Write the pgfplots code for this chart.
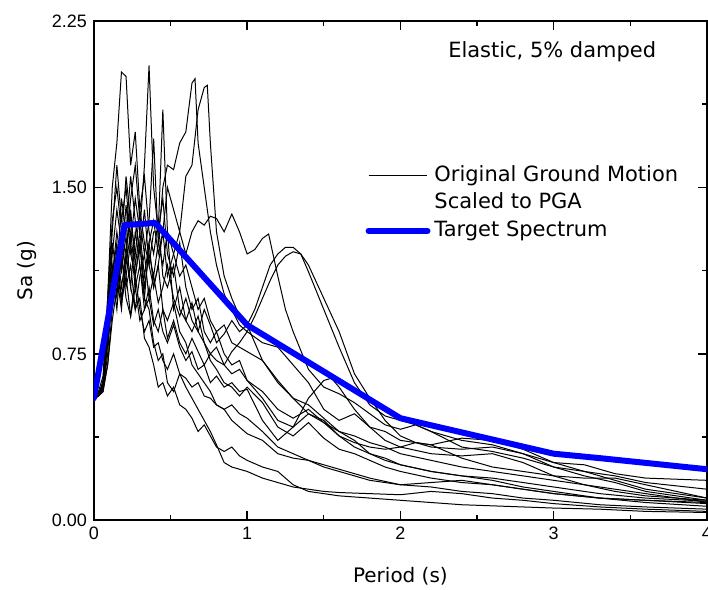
\documentclass[border=0pt]{standalone}
\usepackage{pgfplots}
\pgfplotsset{compat=1.18}
\usepackage{fontspec}
\setmainfont{DejaVu Sans}
\newfontfamily\ticksfont{Liberation Sans}
\definecolor{tblue}{RGB}{0,0,255}
\pgfplotsset{gm/.style={black, line width=0.5pt, mark=none, solid}}
\begin{document}
\begin{tikzpicture}
\begin{axis}[
  scale only axis, width=307pt, height=250pt,
  xmin=0, xmax=4, ymin=0, ymax=2.25,
  xtick={0,1,2,3,4}, ytick={0,0.75,1.5,2.25},
  minor x tick num=1, minor y tick num=1,
  tick align=inside,
  major tick length=4.5pt, minor tick length=2.5pt,
  axis line style={line width=0.8pt},
  every tick/.style={line width=0.7pt, black},
  /pgf/number format/assume math mode=true,
  ticklabel style={font=\ticksfont\fontsize{9}{10}\selectfont},
  yticklabel style={/pgf/number format/.cd, fixed, fixed zerofill, precision=2},
  xticklabel style={/pgf/number format/.cd, fixed, precision=0},
  xlabel={Period (s)}, ylabel={Sa (g)},
  label style={font=\fontsize{10.5}{12}\selectfont},
  every axis x label/.style={at={(axis description cs:0.5,-0.112)}, anchor=center},
  every axis y label/.style={at={(axis description cs:-0.109,0.5)}, anchor=center, rotate=90},
  legend style={at={(axis cs:1.770,1.607)}, anchor=north west, draw=none, fill=none,
    font=\fontsize{10.5}{12}\selectfont, row sep=3pt, inner sep=0pt,
    nodes={inner xsep=2pt, inner ysep=0pt, text height=8.5pt, text depth=2.5pt}},
  legend cell align=left,
  legend image code/.code={\draw[#1] (-2.5pt,0pt) -- (27pt,0pt);},
]
% C1
\addplot[gm] coordinates {(0,0.55) (0.03,0.56) (0.06,0.58) (0.09,0.75) (0.12,1.05) (0.15,1.22) (0.18,1.12) (0.21,1.28) (0.24,1.05) (0.27,0.95) (0.30,1.0) (0.33,0.82) (0.36,0.78) (0.39,0.7) (0.42,0.6) (0.45,0.62) (0.48,0.56) (0.52,0.6) (0.56,0.52) (0.60,0.5) (0.64,0.46) (0.68,0.40) (0.72,0.43) (0.76,0.38) (0.80,0.33) (0.85,0.31) (0.90,0.33) (0.95,0.29) (1.0,0.27) (1.1,0.24) (1.2,0.22) (1.3,0.16) (1.4,0.13) (1.5,0.12) (1.6,0.11) (1.8,0.10) (2.0,0.09) (2.2,0.08) (2.4,0.07) (2.6,0.065) (2.8,0.06) (3.0,0.055) (3.3,0.05) (3.6,0.04) (4.0,0.035)};
\addlegendentry{Original Ground Motion}
\addlegendimage{empty legend}
\addlegendentry{Scaled to PGA}
% C2
\addplot[gm, forget plot] coordinates {(0,0.55) (0.03,0.57) (0.06,0.6) (0.09,0.85) (0.12,1.1) (0.15,1.3) (0.18,1.15) (0.21,1.42) (0.24,1.2) (0.27,1.1) (0.30,1.25) (0.33,1.0) (0.36,0.95) (0.39,0.8) (0.42,0.72) (0.45,0.75) (0.48,0.62) (0.52,0.58) (0.56,0.66) (0.60,0.6) (0.64,0.55) (0.68,0.5) (0.72,0.45) (0.76,0.4) (0.80,0.34) (0.85,0.26) (0.90,0.24) (0.95,0.23) (1.0,0.22) (1.1,0.19) (1.2,0.17) (1.3,0.15) (1.4,0.14) (1.5,0.13) (1.6,0.125) (1.8,0.12) (2.0,0.115) (2.2,0.13) (2.4,0.12) (2.6,0.1) (2.8,0.09) (3.0,0.075) (3.3,0.06) (3.6,0.05) (4.0,0.04)};
% C3
\addplot[gm, forget plot] coordinates {(0,0.55) (0.03,0.57) (0.06,0.62) (0.09,0.9) (0.12,1.25) (0.15,1.1) (0.18,1.45) (0.21,1.3) (0.24,1.55) (0.27,1.35) (0.30,1.2) (0.33,1.4) (0.36,1.15) (0.39,1.05) (0.42,1.15) (0.45,0.95) (0.48,0.9) (0.52,0.98) (0.56,0.85) (0.60,0.8) (0.64,0.7) (0.68,0.66) (0.72,0.62) (0.76,0.58) (0.80,0.52) (0.85,0.5) (0.90,0.45) (0.95,0.42) (1.0,0.39) (1.1,0.36) (1.2,0.3) (1.3,0.28) (1.4,0.27) (1.5,0.24) (1.6,0.22) (1.7,0.2) (1.8,0.18) (2.0,0.16) (2.2,0.17) (2.4,0.18) (2.6,0.16) (2.8,0.14) (3.0,0.12) (3.3,0.1) (3.6,0.09) (4.0,0.08)};
% C4
\addplot[gm, forget plot] coordinates {(0,0.56) (0.03,0.57) (0.06,0.6) (0.09,0.95) (0.12,1.3) (0.15,1.6) (0.18,1.35) (0.21,1.5) (0.24,1.25) (0.27,1.45) (0.30,1.3) (0.33,1.6) (0.36,2.05) (0.39,1.5) (0.42,1.3) (0.45,1.45) (0.48,1.2) (0.52,1.1) (0.56,1.25) (0.60,1.05) (0.64,0.95) (0.68,1.0) (0.72,0.85) (0.76,0.8) (0.80,0.85) (0.85,0.75) (0.90,0.7) (0.95,0.72) (1.0,0.63) (1.1,0.58) (1.2,0.5) (1.3,0.46) (1.4,0.5) (1.5,0.44) (1.6,0.38) (1.7,0.33) (1.8,0.3) (1.9,0.28) (2.0,0.25) (2.2,0.22) (2.4,0.2) (2.6,0.19) (2.8,0.17) (3.0,0.15) (3.3,0.12) (3.6,0.1) (4.0,0.086)};
% C5
\addplot[gm, forget plot] coordinates {(0,0.55) (0.03,0.56) (0.06,0.63) (0.09,1.0) (0.12,1.5) (0.15,1.7) (0.18,2.02) (0.21,2.0) (0.24,1.6) (0.27,1.75) (0.30,1.4) (0.33,1.55) (0.36,1.3) (0.39,1.2) (0.42,1.35) (0.45,1.1) (0.48,1.05) (0.52,1.15) (0.56,0.95) (0.60,0.9) (0.64,0.98) (0.68,0.85) (0.72,0.8) (0.76,0.72) (0.80,0.68) (0.85,0.62) (0.90,0.6) (0.95,0.56) (1.0,0.6) (1.1,0.53) (1.2,0.42) (1.3,0.38) (1.4,0.44) (1.5,0.37) (1.6,0.32) (1.7,0.3) (1.8,0.27) (1.9,0.24) (2.0,0.22) (2.2,0.19) (2.4,0.17) (2.6,0.16) (2.8,0.14) (3.0,0.12) (3.3,0.1) (3.6,0.08) (4.0,0.063)};
% C6
\addplot[gm, forget plot] coordinates {(0,0.55) (0.03,0.57) (0.06,0.6) (0.09,0.8) (0.12,1.0) (0.15,1.2) (0.18,1.0) (0.21,1.15) (0.24,1.3) (0.27,1.1) (0.30,1.25) (0.33,1.05) (0.36,1.2) (0.39,1.1) (0.42,1.25) (0.45,1.5) (0.48,1.6) (0.52,1.58) (0.56,1.7) (0.60,1.75) (0.64,1.97) (0.66,1.99) (0.68,1.7) (0.72,1.5) (0.76,1.3) (0.80,1.15) (0.85,1.02) (0.90,0.95) (0.95,0.88) (1.0,0.85) (1.1,0.8) (1.2,0.78) (1.3,0.7) (1.4,0.62) (1.5,0.5) (1.6,0.45) (1.7,0.48) (1.8,0.42) (1.9,0.4) (2.0,0.36) (2.2,0.34) (2.4,0.37) (2.6,0.36) (2.8,0.32) (3.0,0.26) (3.2,0.25) (3.4,0.21) (3.6,0.19) (4.0,0.18)};
% C7
\addplot[gm, forget plot] coordinates {(0,0.55) (0.03,0.56) (0.06,0.59) (0.09,0.7) (0.12,0.95) (0.15,1.1) (0.18,0.95) (0.21,1.2) (0.24,1.05) (0.27,1.3) (0.30,1.15) (0.33,1.0) (0.36,1.25) (0.39,1.35) (0.42,1.2) (0.45,1.3) (0.48,1.5) (0.52,1.4) (0.56,1.3) (0.60,1.55) (0.64,1.6) (0.68,1.85) (0.72,1.95) (0.74,1.96) (0.76,1.7) (0.80,1.3) (0.85,1.1) (0.90,1.0) (0.95,0.92) (1.0,0.88) (1.1,0.72) (1.2,0.62) (1.3,0.55) (1.4,0.52) (1.5,0.46) (1.6,0.4) (1.7,0.38) (1.8,0.35) (1.9,0.33) (2.0,0.3) (2.2,0.27) (2.4,0.24) (2.6,0.22) (2.8,0.2) (3.0,0.18) (3.3,0.15) (3.6,0.12) (4.0,0.081)};
% C8
\addplot[gm, forget plot] coordinates {(0,0.55) (0.03,0.56) (0.06,0.62) (0.09,0.85) (0.12,1.1) (0.15,0.95) (0.18,1.2) (0.21,1.05) (0.24,1.15) (0.27,0.95) (0.30,1.1) (0.33,1.2) (0.36,1.0) (0.39,1.1) (0.42,0.98) (0.45,1.05) (0.48,1.15) (0.52,1.0) (0.56,0.92) (0.60,1.0) (0.64,0.9) (0.68,0.85) (0.72,0.95) (0.76,0.88) (0.80,0.8) (0.85,0.84) (0.90,0.9) (0.95,0.85) (1.0,0.88) (1.05,0.95) (1.1,1.05) (1.15,1.15) (1.2,1.2) (1.25,1.23) (1.3,1.23) (1.35,1.2) (1.4,1.12) (1.5,0.95) (1.6,0.78) (1.7,0.62) (1.8,0.52) (1.9,0.47) (2.0,0.45) (2.1,0.43) (2.2,0.4) (2.4,0.36) (2.6,0.34) (2.8,0.3) (3.0,0.26) (3.2,0.22) (3.4,0.2) (3.6,0.17) (4.0,0.14)};
% C9
\addplot[gm, forget plot] coordinates {(0,0.55) (0.03,0.57) (0.06,0.6) (0.09,0.8) (0.12,1.0) (0.15,1.15) (0.18,0.98) (0.21,1.1) (0.24,0.92) (0.27,1.05) (0.30,0.9) (0.33,0.95) (0.36,1.05) (0.39,0.9) (0.42,0.85) (0.45,0.95) (0.48,0.82) (0.52,0.9) (0.56,0.8) (0.60,0.75) (0.64,0.82) (0.68,0.76) (0.72,0.7) (0.76,0.75) (0.80,0.72) (0.85,0.7) (0.90,0.76) (0.95,0.8) (1.0,0.85) (1.05,0.92) (1.1,1.0) (1.15,1.08) (1.2,1.15) (1.25,1.19) (1.3,1.21) (1.35,1.2) (1.4,1.15) (1.5,1.0) (1.6,0.85) (1.7,0.66) (1.8,0.55) (1.9,0.45) (2.0,0.38) (2.1,0.35) (2.2,0.33) (2.4,0.32) (2.6,0.33) (2.8,0.3) (3.0,0.24) (3.2,0.22) (3.4,0.18) (3.6,0.14) (4.0,0.1)};
% C10
\addplot[gm, forget plot] coordinates {(0,0.55) (0.03,0.56) (0.06,0.61) (0.09,0.82) (0.12,1.1) (0.15,1.25) (0.18,1.05) (0.21,1.2) (0.24,1.4) (0.27,1.15) (0.30,1.3) (0.33,1.1) (0.36,1.25) (0.39,1.05) (0.42,1.15) (0.45,1.3) (0.48,1.1) (0.52,1.2) (0.56,1.3) (0.60,1.2) (0.64,1.3) (0.68,1.35) (0.72,1.33) (0.76,1.37) (0.80,1.36) (0.85,1.3) (0.90,1.38) (0.95,1.3) (1.0,1.2) (1.05,1.22) (1.1,1.27) (1.14,1.29) (1.2,1.1) (1.25,0.95) (1.3,0.85) (1.4,0.68) (1.5,0.6) (1.6,0.57) (1.7,0.53) (1.8,0.48) (1.9,0.43) (2.0,0.41) (2.1,0.43) (2.2,0.4) (2.4,0.33) (2.6,0.31) (2.8,0.28) (3.0,0.24) (3.2,0.2) (3.4,0.17) (3.6,0.13) (4.0,0.09)};
% C11
\addplot[gm, forget plot] coordinates {(0,0.55) (0.03,0.56) (0.06,0.61) (0.09,0.9) (0.12,1.2) (0.15,1.4) (0.18,1.25) (0.21,1.55) (0.24,1.35) (0.27,1.2) (0.30,1.4) (0.33,1.25) (0.36,1.15) (0.39,1.3) (0.42,1.3) (0.45,1.85) (0.48,1.3) (0.52,0.95) (0.56,1.05) (0.60,0.9) (0.64,0.85) (0.68,0.92) (0.72,0.8) (0.76,0.75) (0.80,0.78) (0.85,0.7) (0.90,0.66) (0.95,0.68) (1.0,0.63) (1.1,0.55) (1.2,0.45) (1.3,0.42) (1.4,0.55) (1.5,0.63) (1.55,0.64) (1.6,0.6) (1.7,0.5) (1.8,0.42) (1.9,0.36) (2.0,0.33) (2.2,0.3) (2.4,0.29) (2.6,0.3) (2.8,0.26) (3.0,0.2) (3.2,0.19) (3.4,0.19) (3.6,0.16) (4.0,0.1)};
% C12
\addplot[gm, forget plot] coordinates {(0,0.55) (0.03,0.57) (0.06,0.6) (0.09,0.88) (0.12,1.15) (0.15,1.0) (0.18,1.3) (0.21,1.1) (0.24,1.25) (0.27,1.05) (0.30,1.15) (0.33,0.95) (0.36,1.0) (0.39,0.88) (0.42,0.95) (0.45,0.85) (0.48,0.8) (0.52,0.88) (0.56,0.78) (0.60,0.72) (0.64,0.76) (0.68,0.68) (0.72,0.7) (0.76,0.62) (0.80,0.65) (0.85,0.6) (0.90,0.62) (0.95,0.58) (1.0,0.59) (1.1,0.45) (1.2,0.36) (1.3,0.42) (1.4,0.48) (1.5,0.45) (1.6,0.38) (1.7,0.35) (1.8,0.33) (1.9,0.32) (2.0,0.33) (2.1,0.35) (2.2,0.34) (2.4,0.28) (2.6,0.24) (2.8,0.22) (3.0,0.2) (3.2,0.16) (3.4,0.13) (3.6,0.11) (4.0,0.09)};
% C13
\addplot[gm, forget plot] coordinates {(0,0.55) (0.03,0.56) (0.06,0.58) (0.09,0.7) (0.12,0.9) (0.15,1.05) (0.18,1.2) (0.21,1.0) (0.24,0.92) (0.27,1.1) (0.30,0.95) (0.33,0.85) (0.36,0.9) (0.39,0.78) (0.42,0.8) (0.45,0.72) (0.48,0.68) (0.52,0.75) (0.56,0.66) (0.60,0.64) (0.64,0.6) (0.68,0.62) (0.72,0.56) (0.76,0.55) (0.80,0.52) (0.85,0.5) (0.90,0.52) (0.95,0.48) (1.0,0.46) (1.1,0.4) (1.2,0.33) (1.3,0.3) (1.4,0.27) (1.5,0.25) (1.6,0.23) (1.8,0.19) (2.0,0.16) (2.2,0.15) (2.4,0.13) (2.6,0.12) (2.8,0.1) (3.0,0.09) (3.3,0.07) (3.6,0.06) (4.0,0.05)};
% C14
\addplot[gm, forget plot] coordinates {(0,0.55) (0.03,0.58) (0.06,0.65) (0.09,1.0) (0.12,1.35) (0.15,1.5) (0.18,1.3) (0.21,1.2) (0.24,1.45) (0.27,1.6) (0.30,1.35) (0.33,1.2) (0.36,1.35) (0.39,1.72) (0.42,1.25) (0.45,1.15) (0.48,1.3) (0.52,1.2) (0.56,1.1) (0.60,1.15) (0.64,1.05) (0.68,0.95) (0.72,1.0) (0.76,0.9) (0.80,0.85) (0.85,0.88) (0.90,0.8) (0.95,0.78) (1.0,0.76) (1.1,0.72) (1.2,0.63) (1.3,0.55) (1.4,0.48) (1.5,0.44) (1.6,0.4) (1.7,0.36) (1.8,0.3) (1.9,0.27) (2.0,0.25) (2.2,0.22) (2.4,0.2) (2.6,0.18) (2.8,0.15) (3.0,0.13) (3.3,0.1) (3.6,0.09) (4.0,0.075)};
% Target
\addplot[tblue, line width=3pt, line join=round, line cap=round, mark=none] coordinates {(0,0.55) (0.2,1.33) (0.4,1.34) (1.0,0.88) (2.0,0.46) (3.0,0.30) (3.3,0.28) (4.0,0.23)};
\addlegendentry{Target Spectrum}
\node[font=\fontsize{10.5}{12}\selectfont, anchor=center] at (axis cs:2.99,2.11) {Elastic, 5\% damped};
\end{axis}
\pgfresetboundingbox
\useasboundingbox (-47pt,-34.5pt) rectangle (307.5pt,260.5pt);
\end{tikzpicture}
\end{document}
